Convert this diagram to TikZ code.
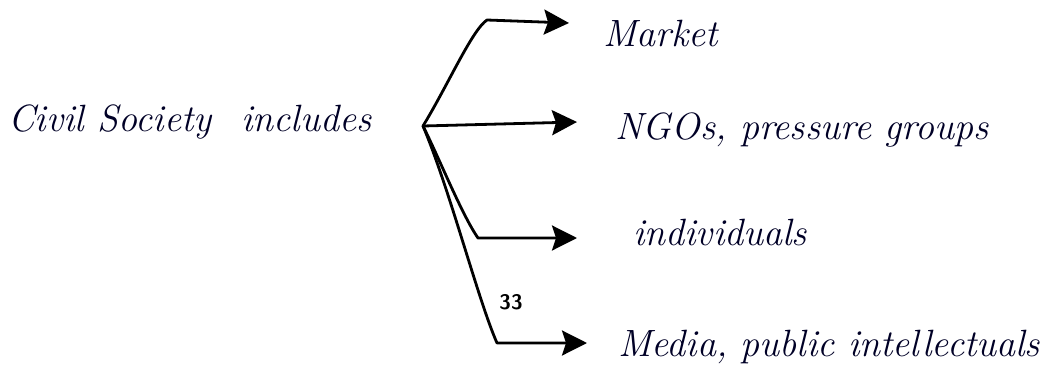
\documentclass[tikz,border=0pt]{standalone}
\usetikzlibrary{arrows.meta}
\begin{document}
\begin{tikzpicture}[x=1pt,y=-1pt,
  hand/.style={font=\fontsize{38}{44}\selectfont\itshape, inner sep=0pt, anchor=west, text=black!85!blue},
  branch/.style={line width=2.8pt, line cap=round, line join=round,
    -{Stealth[length=25pt,width=25pt,inset=4pt]}},
  pagenum/.style={font=\fontsize{21}{24}\selectfont\sffamily\bfseries, inner sep=0pt}]
  \useasboundingbox (0,0) rectangle (1041,372);
  % root label and branching point
  \node[hand] (root) at (8,122) {Civil Society\hspace{30pt}includes};
  \coordinate (hub) at (423,126);
  % targets
  \node[hand] (market) at (603,34) {Market};
  \node[hand] (ngo) at (615,130) {NGOs, pressure groups};
  \node[hand] (indiv) at (633,233) {individuals};
  \node[hand] (media) at (618,347) {Media, public intellectuals};
  % arrow ends
  \coordinate (tm) at (569,23);
  \coordinate (tn) at (577,122);
  \coordinate (ti) at (577,238);
  \coordinate (td) at (587,343);
  % branches
  \draw[branch] (hub) .. controls (448,85) and (472,30) .. (487,20) -- (tm);
  \draw[branch] (hub) -- (tn);
  \draw[branch] (hub) .. controls (440,160) and (462,215) .. (478,238) -- (ti);
  \draw[branch] (hub) .. controls (450,190) and (478,300) .. (497,343) -- (td);
  \node[pagenum] (pg) at (511,302) {33};
\end{tikzpicture}
\end{document}
